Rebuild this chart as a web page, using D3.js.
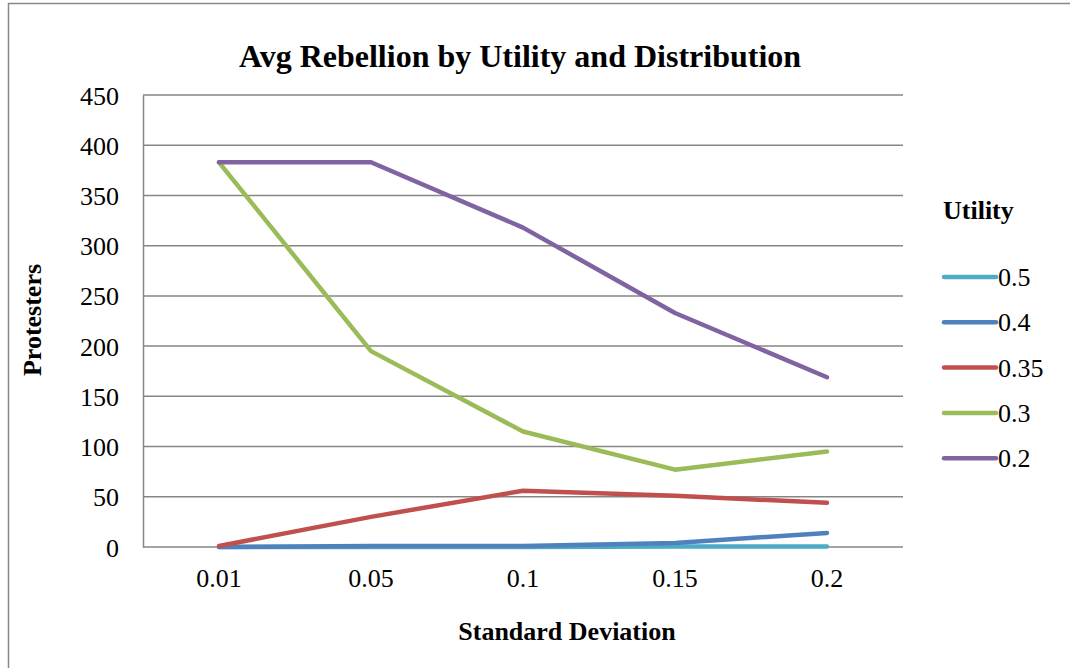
<!DOCTYPE html>
<html>
<head>
<meta charset="utf-8">
<script src="https://cdn.jsdelivr.net/npm/d3@7"></script>
<style>
  body { margin: 0; background: #fff; }
  svg text { font-family: "Liberation Serif", "Times New Roman", serif; fill: #000; }
</style>
</head>
<body>
<div id="chart"></div>
<script>
// Dane
const categories = ["0.01", "0.05", "0.1", "0.15", "0.2"];
const seriesNames = ["0.5", "0.4", "0.35", "0.3", "0.2"];
const seriesColors = ["#4BACC6", "#4F81BD", "#C0504D", "#9BBB59", "#8064A2"];
const util05 = [0, 0, 0, 0.5, 0.5];
const util04 = [0, 1, 1, 4, 14];
const util035 = [1, 30, 56, 51, 44];
const util03 = [383, 195, 115, 77, 95];
const util02 = [383, 383, 318, 233, 169];
const yTicks = [0, 50, 100, 150, 200, 250, 300, 350, 400, 450];

const seriesValues = [util05, util04, util035, util03, util02];

const W = 1070, H = 668;
const plot = { left: 143, top: 95, right: 903, bottom: 547 };

const svg = d3.select("#chart").append("svg")
  .attr("width", W).attr("height", H);

// Ramka
svg.append("rect")
  .attr("x", 8.5).attr("y", 3.5)
  .attr("width", W).attr("height", H)
  .attr("fill", "none").attr("stroke", "#888").attr("stroke-width", 1.5);

const x = d3.scaleBand().domain(categories).range([plot.left, plot.right]);
const y = d3.scaleLinear().domain([0, 450]).range([plot.bottom, plot.top]);

// Siatka
svg.append("g").selectAll("line")
  .data(yTicks)
  .join("line")
  .attr("x1", plot.left).attr("x2", plot.right)
  .attr("y1", d => y(d)).attr("y2", d => y(d))
  .attr("stroke", "#868686").attr("stroke-width", 1.5);

// Oś Y
const yAxis = svg.append("g")
  .attr("transform", `translate(${plot.left},0)`)
  .call(d3.axisLeft(y).tickValues(yTicks).tickSize(0).tickPadding(24));
yAxis.select(".domain").attr("stroke", "#868686").attr("stroke-width", 1.5);
yAxis.selectAll("text").style("font-size", "26px").attr("dy", "0.35em");

// Oś X
const xAxis = svg.append("g")
  .attr("transform", `translate(0,${plot.bottom})`)
  .call(d3.axisBottom(x).tickSize(0).tickPadding(22));
xAxis.select(".domain").remove();
xAxis.selectAll("text").style("font-size", "26px");

// Linie
const line = d3.line()
  .x((d, i) => x(categories[i]) + x.bandwidth() / 2)
  .y(d => y(d));

svg.append("g").selectAll("path")
  .data(seriesValues)
  .join("path")
  .attr("d", d => line(d))
  .attr("fill", "none")
  .attr("stroke", (d, i) => seriesColors[i])
  .attr("stroke-width", 4.5)
  .attr("stroke-linejoin", "round")
  .attr("stroke-linecap", "round");

// Tytuł
svg.append("text")
  .attr("x", 520).attr("y", 67)
  .attr("text-anchor", "middle")
  .style("font-size", "32px").style("font-weight", "bold")
  .text("Avg Rebellion by Utility and Distribution");

svg.append("text")
  .attr("x", 567).attr("y", 640)
  .attr("text-anchor", "middle")
  .style("font-size", "26px").style("font-weight", "bold")
  .text("Standard Deviation");

svg.append("text")
  .attr("transform", "translate(41,320) rotate(-90)")
  .attr("text-anchor", "middle")
  .style("font-size", "26px").style("font-weight", "bold")
  .text("Protesters");

// Legenda
const legend = svg.append("g");
legend.append("text")
  .attr("x", 943).attr("y", 219)
  .style("font-size", "26px").style("font-weight", "bold")
  .text("Utility");

const items = legend.selectAll("g.item")
  .data(seriesNames)
  .join("g")
  .attr("class", "item")
  .attr("transform", (d, i) => `translate(0,${277 + i * 45.3})`);
items.append("line")
  .attr("x1", 944).attr("x2", 996)
  .attr("stroke", (d, i) => seriesColors[i])
  .attr("stroke-width", 4.5).attr("stroke-linecap", "round");
items.append("text")
  .attr("x", 998).attr("dy", "0.35em")
  .style("font-size", "26px")
  .text(d => d);
</script>
</body>
</html>
